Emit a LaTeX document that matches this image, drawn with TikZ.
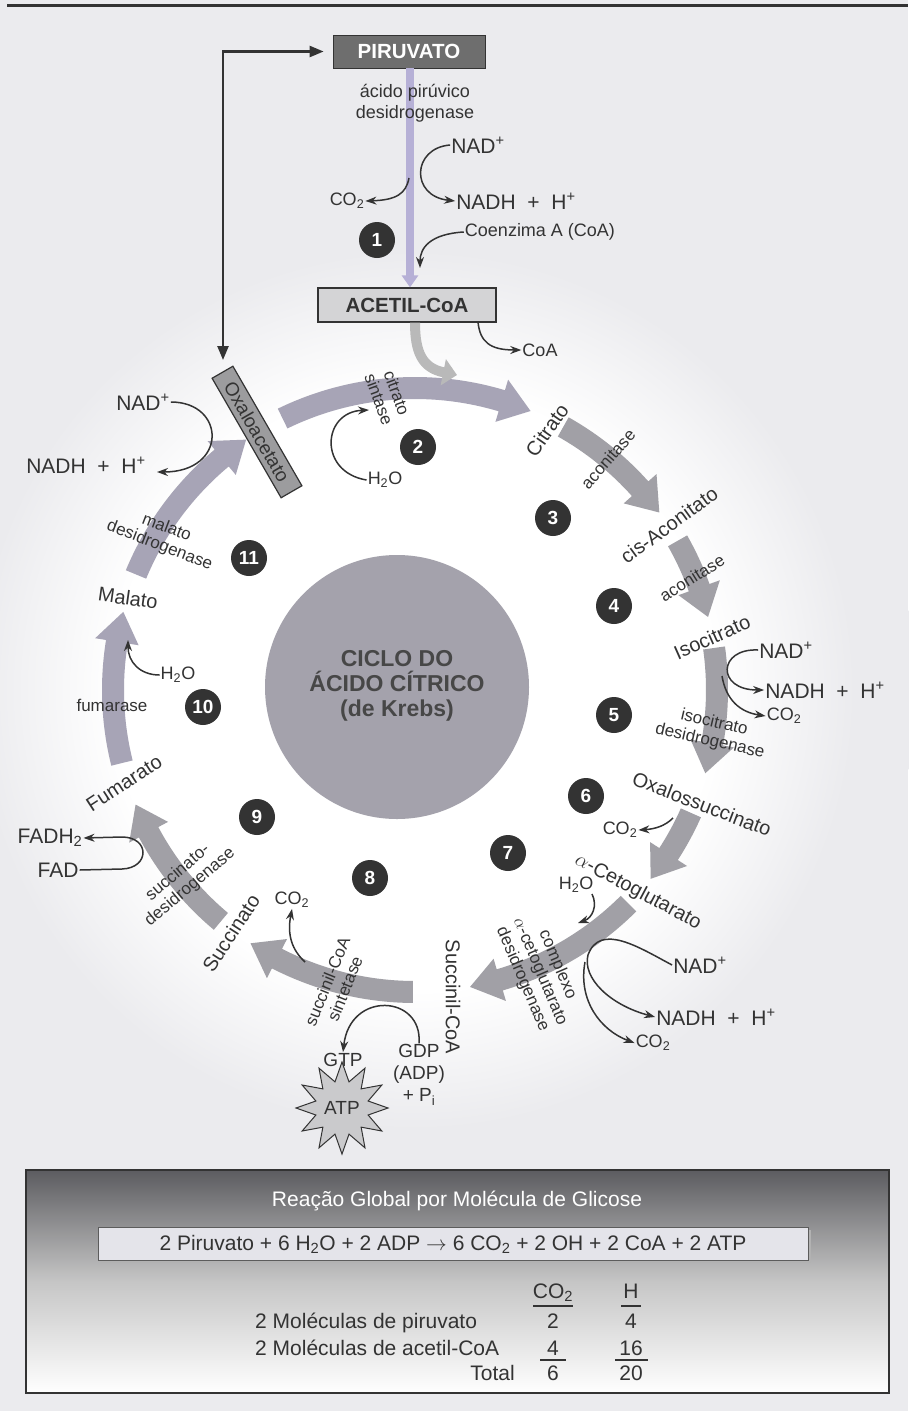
\documentclass[tikz,border=0pt]{standalone}
\usepackage{fontspec}
\setmainfont{Liberation Sans}
\usetikzlibrary{arrows.meta,shapes.geometric}
\definecolor{ink}{HTML}{333333}
\definecolor{bg}{HTML}{EBEBEE}
\definecolor{ringc}{HTML}{A1A0A6}
\definecolor{ringl}{HTML}{A7A4B6}
\definecolor{lav}{HTML}{B6B0D6}
\definecolor{ctr}{HTML}{A4A2AC}
\definecolor{piru}{HTML}{6E6E6E}
\definecolor{acet}{HTML}{D4D4D6}
\definecolor{oxf}{HTML}{9C9C9E}
\definecolor{starf}{HTML}{CACACC}
\definecolor{eqf}{HTML}{E4E4EA}
\definecolor{boxtop}{HTML}{5C5C60}
\pgfdeclareradialshading{bgrad}{\pgfpoint{0bp}{0bp}}{color(0bp)=(white); color(15bp)=(white); color(22bp)=(bg); color(50bp)=(bg)}
\newcommand{\fs}[2]{\fontsize{#1}{#2}\selectfont}
\newcommand{\ringarrow}[3][ringc]{%
  \pgfmathsetmacro{\hb}{#3-5.8}%
  \fill[#1] (#2:291) arc[start angle=#2, end angle=\hb, radius=291] -- (\hb:280) -- (#3:302) -- (\hb:324) -- (\hb:313) arc[start angle=\hb, end angle=#2, radius=313] -- cycle;}
\tikzset{
  mol/.style={text=ink, inner sep=1pt, font=\fs{21}{24}},
  lbl/.style={text=ink, inner sep=1pt, font=\fs{20}{23}},
  sm/.style={text=ink, inner sep=1pt, font=\fs{18}{21}},
  enz/.style={text=ink, inner sep=1pt, align=center, font=\fs{17}{19}},
  stepc/.style={circle, fill=ink, text=white, font=\bfseries\fs{19}{20}, minimum size=36pt, inner sep=0pt},
  rx/.style={draw=ink, line width=1.5pt, -{Stealth[length=11pt,width=8pt]}},
  tbl/.style={text=ink, inner sep=0pt, font=\fs{21}{24}},
}
\begin{document}
\begin{tikzpicture}[x=1pt,y=-1pt]
\useasboundingbox (0,0) rectangle (908,1411);
\fill[bg] (0,0) rectangle (908,1411);
\shade[shading=bgrad] (415,690) circle (500);
\draw[ink, line width=2.5pt] (7,5.5) -- (908,5.5);

% ---- ring of arrows
\begin{scope}[shift={(415,690)}]
  \ringarrow[ringl]{-116}{-67.5}
  \ringarrow{-60.6}{-36}
  \ringarrow{-29.6}{-14}
  \ringarrow{-8}{16}
  \ringarrow{24}{38.7}
  \ringarrow{45}{79.5}
  \ringarrow{90.4}{123}
  \ringarrow{130}{157.7}
  \ringarrow[ringl]{166}{195}
  \ringarrow[ringl]{202.5}{236}
\end{scope}

% ---- centre
\node[circle, fill=ctr, minimum size=264pt, inner sep=0pt] (centre) at (397,687) {};
\node[align=center, font=\bfseries\fs{23}{25}, text=ink!90] (ctext) at (397,686) {CICLO DO\\ÁCIDO CÍTRICO\\(de Krebs)};

% ---- top part
\node[fill=piru, draw=ink, line width=0.8pt, minimum width=152pt, minimum height=33pt, inner sep=0pt, text=white, font=\bfseries\fs{20.5}{22}] (piruvato) at (409,51.5) {PIRUVATO};
\node[fill=acet, draw=ink, line width=1.2pt, minimum width=178pt, minimum height=34pt, inner sep=0pt, text=ink, font=\bfseries\fs{20.5}{22}] (acetil) at (407,305) {ACETIL-CoA};
\draw[line width=8pt, lav, -{Triangle[length=12pt,width=16pt]}] ([xshift=1pt]piruvato.south) -- ([xshift=3pt]acetil.north);
\node[enz, font=\fs{18}{21}] (pdh) at (415,103) {ácido pirúvico\\desidrogenase};
\node[mol] (nad1) at (478,145) {NAD\textsuperscript{+}};
\node[mol] (nadh1) at (516,201) {NADH\ \ +\ \ H\textsuperscript{+}};
\node[sm] (co2a) at (347,201) {CO\textsubscript{2}};
\node[stepc] (s1) at (377,240) {1};
\node[sm] (coenz) at (540,232) {Coenzima A (CoA)};
\node[sm] (coaout) at (540,350) {CoA};
\draw[rx] (nad1.west) .. controls (412,148) and (410,196) .. (nadh1.west);
\draw[rx] (409,178) .. controls (406,194) and (396,200) .. (co2a.east);
\draw[rx] (coenz.west) .. controls (430,234) and (420,248) .. (420,268);
\draw[rx] (478,322) .. controls (480,342) and (490,350) .. (coaout.west);
\coordinate (acetEnd) at (457,375);
\draw[line width=10pt, gray!55, -{Triangle[length=14pt,width=26pt]}] ([xshift=8pt]acetil.south) .. controls (415,352) and (422,368) .. (acetEnd);

% ---- oxaloacetato & feedback
\node[draw=ink, line width=1.2pt, fill=oxf, rotate=-60, minimum width=138pt, minimum height=24pt, inner sep=0pt, text=ink, font=\fs{19}{21}] (oxalo) at (257,432) {Oxaloacetato};
\coordinate (oxtop) at (223,360);
\draw[line width=2.5pt, ink, {Triangle[length=14pt,width=11pt]}-{Triangle[length=14pt,width=11pt]}, shorten >=9pt] (oxtop) |- (piruvato.west);

% ---- step 2
\node[enz, rotate=-70] (cs) at (388,396) {citrato\\sintase};
\node[sm] (h2oa) at (385,480) {H\textsubscript{2}O};
\node[stepc] (s2) at (418,447) {2};
\draw[rx] (h2oa.west) .. controls (318,472) and (322,412) .. (369,410);

% ---- left side
\node[mol] (nad2) at (143,402) {NAD\textsuperscript{+}};
\node[mol] (nadh2) at (86,465) {NADH\ \ +\ \ H\textsuperscript{+}};
\draw[rx] (nad2.east) .. controls (226,402) and (228,472) .. (157,472);
\node[enz, rotate=-21] (mdh) at (163,537) {malato\\desidrogenase};
\node[stepc] (s11) at (249,558) {11};
\node[lbl, rotate=-8] (malato) at (128,598) {Malato};
\node[sm] (h2ob) at (178,675) {H\textsubscript{2}O};
\draw[rx] (h2ob.west) .. controls (140,675) and (128,662) .. (128,640);
\node[enz] (fum) at (112,705) {fumarase};
\node[stepc] (s10) at (203,707) {10};
\node[lbl, rotate=33] (fumarato) at (124,783) {Fumarato};
\node[stepc] (s9) at (257,817) {9};
\node[mol] (fadh2) at (50,838) {FADH\textsubscript{2}};
\node[mol] (fad) at (58,870) {FAD};
\draw[rx] (fad.east) -- (122,869) .. controls (150,868) and (150,837) .. (122,837) -- (fadh2.east);
\node[enz, rotate=40] (sdh) at (184,880) {succinato-\\desidrogenase};
\node[lbl, rotate=57] (succinato) at (231,933) {Succinato};
\node[stepc] (s8) at (370,878) {8};
\node[sm] (co2b) at (292,900) {CO\textsubscript{2}};
\draw[rx] (305,962) .. controls (292,950) and (287,935) .. (co2b.south);
\node[enz, rotate=68] (scs) at (336,985) {succinil-CoA\\sintetase};
\node[sm, font=\fs{19}{21}] (gtp) at (343,1060) {GTP};
\node[enz, font=\fs{19}{22}] (gdp) at (419,1075) {GDP\\(ADP)\\+ P\textsubscript{i}};
\draw[rx] (gdp.north) .. controls (423,995) and (350,990) .. (gtp.north);
\node[star, star points=12, star point ratio=1.7, minimum size=92pt, draw=ink, fill=starf, line width=1pt, inner sep=0pt, text=ink, font=\fs{19}{21}] (atp) at (342,1108) {ATP};
\node[lbl, rotate=-90] (succoa) at (453,997) {Succinil-CoA};

% ---- right side
\node[lbl, rotate=55] (citrato) at (547,430) {Citrato};
\node[enz, rotate=49] (acon1) at (608,459) {aconitase};
\node[stepc] (s3) at (553,518) {3};
\node[lbl, rotate=36] (cisacon) at (669,525) {cis-Aconitato};
\node[enz, rotate=32] (acon2) at (692,578) {aconitase};
\node[stepc] (s4) at (614,606) {4};
\node[lbl, rotate=24] (isoc) at (712,637) {Isocitrato};
\node[mol] (nad4) at (786,650) {NAD\textsuperscript{+}};
\node[mol] (nadh4) at (825,690) {NADH\ \ +\ \ H\textsuperscript{+}};
\node[sm] (co2d) at (784,716) {CO\textsubscript{2}};
\draw[rx] (nad4.west) .. controls (718,648) and (716,690) .. (nadh4.west);
\draw[rx] (722,676) .. controls (726,700) and (740,712) .. (co2d.west);
\node[enz, rotate=-13] (idh) at (712,732) {isocitrato\\desidrogenase};
\node[stepc] (s5) at (614,715) {5};
\node[lbl, rotate=-21] (oxs) at (702,804) {Oxalossuccinato};
\node[stepc] (s6) at (586,796) {6};
\node[sm] (co2e) at (620,830) {CO\textsubscript{2}};
\draw[rx] (673,818) .. controls (665,826) and (655,829) .. (co2e.east);
\node[stepc] (s7) at (508,853) {7};
\node[lbl, rotate=-28] (akg) at (638,892) {$\alpha$-Cetoglutarato};
\node[sm] (h2oc) at (576,885) {H\textsubscript{2}O};
\draw[rx] (592,894) .. controls (598,906) and (592,918) .. (578,923);
\node[enz, rotate=-67] (akgdh) at (540,972) {complexo\\$\alpha$-cetoglutarato\\desidrogenase};
\node[mol] (nad5) at (700,965) {NAD\textsuperscript{+}};
\node[mol] (nadh5) at (716,1017) {NADH\ \ +\ \ H\textsuperscript{+}};
\node[sm] (co2f) at (653,1043) {CO\textsubscript{2}};
\draw[rx] (nad5.west) .. controls (640,948) and (600,922) .. (588,955) .. controls (582,978) and (610,1005) .. (nadh5.west);
\draw[rx] (585,962) .. controls (578,1000) and (600,1030) .. (co2f.west);

% ---- bottom box
\shade[top color=boxtop, bottom color=white, middle color=gray!45] (26,1170) rectangle (889,1393);
\draw[ink, line width=1.5pt] (26,1170) rectangle (889,1393);
\node[text=white, font=\fs{21}{24}] (title) at (457,1201) {Reação Global por Molécula de Glicose};
\fill[gray!60] (101,1230) rectangle (811,1263);
\node[draw=ink!80, line width=0.8pt, fill=eqf, minimum width=710pt, minimum height=33pt, inner sep=0pt, text=ink, font=\fs{21}{24}] (eq) at (453,1244) {2 Piruvato + 6 H\textsubscript{2}O + 2 ADP $\rightarrow$ 6 CO\textsubscript{2} + 2 OH + 2 CoA + 2 ATP};
\node[tbl, anchor=base] (hco2) at (553,1298) {CO\textsubscript{2}};
\node[tbl, anchor=base] (hh) at (631,1298) {H};
\node[tbl, anchor=base west] (r1) at (255,1328) {2 Moléculas de piruvato};
\node[tbl, anchor=base west] (r2) at (255,1355) {2 Moléculas de acetil-CoA};
\node[tbl, anchor=base east] (r3) at (515,1380) {Total};
\node[tbl, anchor=base] (c1) at (553,1328) {2};
\node[tbl, anchor=base] (c2) at (553,1355) {4};
\node[tbl, anchor=base] (c3) at (553,1380) {6};
\node[tbl, anchor=base] (h1) at (631,1328) {4};
\node[tbl, anchor=base] (h2) at (631,1355) {16};
\node[tbl, anchor=base] (h3) at (631,1380) {20};
\draw[ink, line width=1.3pt] (533,1306) -- (573,1306);
\draw[ink, line width=1.3pt] (621,1306) -- (641,1306);
\draw[ink, line width=1.3pt] (540,1360) -- (566,1360);
\draw[ink, line width=1.3pt] (615,1360) -- (648,1360);
\end{tikzpicture}
\end{document}
